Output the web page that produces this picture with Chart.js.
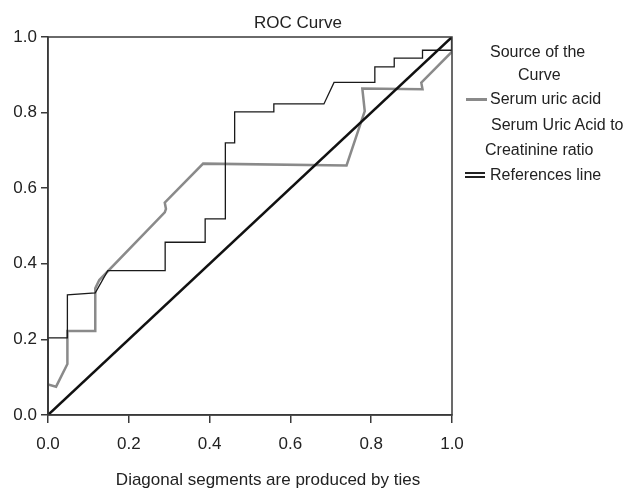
<!DOCTYPE html>
<html>
<head>
<meta charset="utf-8">
<script src="https://cdn.jsdelivr.net/npm/chart.js@4/dist/chart.umd.min.js"></script>
<style>
  html, body { margin: 0; padding: 0; background: #fff; }
  #wrap { position: relative; width: 632px; height: 489px; font-family: "Liberation Sans", Arial, sans-serif; color: #222; }
  canvas { position: absolute; left: 0; top: 0; }
  .lg { position: absolute; font-size: 16px; line-height: 18px; white-space: nowrap; }
  .sw { position: absolute; height: 2px; }
</style>
</head>
<body>
<div id="wrap">
  <canvas id="c" width="632" height="489"></canvas>
  <div class="lg" style="left:490px; top:43px;">Source of the</div>
  <div class="lg" style="left:518px; top:66px;">Curve</div>
  <div class="sw" style="left:466px; top:98px; width:21px; height:2.5px; background:#8a8a8a;"></div>
  <div class="lg" style="left:490px; top:90px;">Serum uric acid</div>
  <div class="lg" style="left:491px; top:116px;">Serum Uric Acid to</div>
  <div class="lg" style="left:485px; top:141px;">Creatinine ratio</div>
  <div class="sw" style="left:465px; top:172px; width:20px; height:1.5px; background:#222;"></div>
  <div class="sw" style="left:465px; top:176px; width:20px; height:1.5px; background:#222;"></div>
  <div class="lg" style="left:490px; top:166px;">References line</div>
</div>
<script>
// Serum uric acid (gray)
const uricFpr = [0.000, 0.020, 0.048, 0.048, 0.117, 0.117, 0.127, 0.289, 0.292, 0.289, 0.384, 0.739, 0.784, 0.778, 0.927, 0.924, 1.000, 1.000];
const uricTpr = [0.081, 0.075, 0.135, 0.222, 0.222, 0.335, 0.357, 0.536, 0.545, 0.562, 0.665, 0.660, 0.804, 0.864, 0.862, 0.879, 0.961, 1.000];
// Serum Uric Acid to Creatinine ratio (black)
const ratioFpr = [0.000, 0.000, 0.048, 0.048, 0.117, 0.148, 0.290, 0.290, 0.389, 0.389, 0.439, 0.439, 0.462, 0.462, 0.559, 0.559, 0.683, 0.708, 0.809, 0.809, 0.857, 0.857, 0.927, 0.927, 1.000, 1.000];
const ratioTpr = [0.000, 0.204, 0.204, 0.318, 0.323, 0.382, 0.382, 0.457, 0.457, 0.519, 0.519, 0.720, 0.720, 0.802, 0.802, 0.823, 0.823, 0.880, 0.880, 0.921, 0.921, 0.944, 0.944, 0.965, 0.965, 1.000];
// Reference line
const refFpr = [0, 1];
const refTpr = [0, 1];
const tickValues = [0, 0.2, 0.4, 0.6, 0.8, 1.0];
const chartTitle = 'ROC Curve';
const xTitle = 'Diagonal segments are produced by ties';

const pts = (xs, ys) => xs.map((x, i) => ({ x: x, y: ys[i] }));
const FAMILY = '"Liberation Sans", Arial, sans-serif';

const framePlugin = {
  id: 'frame',
  afterDraw(chart) {
    const a = chart.chartArea, ctx = chart.ctx;
    ctx.save();
    ctx.strokeStyle = '#3a3a3a';
    ctx.lineWidth = 1.5;
    ctx.strokeRect(a.left, a.top, a.right - a.left, a.bottom - a.top);
    ctx.fillStyle = '#222';
    ctx.font = '17px ' + FAMILY;
    ctx.textAlign = 'center';
    ctx.textBaseline = 'middle';
    ctx.fillText(chartTitle, 298, 23);
    ctx.fillText(xTitle, 268, 480);
    ctx.restore();
  }
};

const font = { family: FAMILY, size: 17 };

new Chart(document.getElementById('c'), {
  type: 'scatter',
  data: {
    datasets: [
      { label: 'Serum uric acid', data: pts(uricFpr, uricTpr), showLine: true, borderColor: '#8a8a8a', borderWidth: 2.5, pointRadius: 0, tension: 0, order: 2 },
      { label: 'Serum Uric Acid to Creatinine ratio', data: pts(ratioFpr, ratioTpr), showLine: true, borderColor: '#1a1a1a', borderWidth: 1.3, pointRadius: 0, tension: 0, order: 1 },
      { label: 'References line', data: pts(refFpr, refTpr), showLine: true, borderColor: '#111', borderWidth: 2.5, pointRadius: 0, tension: 0, order: 0 }
    ]
  },
  options: {
    responsive: false,
    animation: false,
    layout: { padding: { left: 0, right: 180, top: 37, bottom: 0 } },
    plugins: {
      legend: { display: false },
      tooltip: { enabled: false },
      title: { display: false }
    },
    scales: {
      x: {
        type: 'linear', min: 0, max: 1,
        afterBuildTicks: (s) => { s.ticks = tickValues.map(v => ({ value: v })); },
        ticks: { color: '#222', font: font, padding: 11, callback: v => v.toFixed(1), maxRotation: 0 },
        grid: { display: true, drawOnChartArea: false, drawTicks: true, tickLength: 8, color: '#3a3a3a', lineWidth: 1.5 },
        border: { display: true, color: '#3a3a3a', width: 1.5 },
        afterFit: (s) => { s.height = 74; }
      },
      y: {
        type: 'linear', min: 0, max: 1,
        afterBuildTicks: (s) => { s.ticks = tickValues.map(v => ({ value: v })); },
        ticks: { color: '#222', font: font, padding: 4, callback: v => v.toFixed(1) },
        grid: { display: true, drawOnChartArea: false, drawTicks: true, tickLength: 7, color: '#3a3a3a', lineWidth: 1.5 },
        border: { display: true, color: '#3a3a3a', width: 1.5 },
        afterFit: (s) => { s.width = 48; }
      }
    }
  },
  plugins: [framePlugin]
});
</script>
</body>
</html>
